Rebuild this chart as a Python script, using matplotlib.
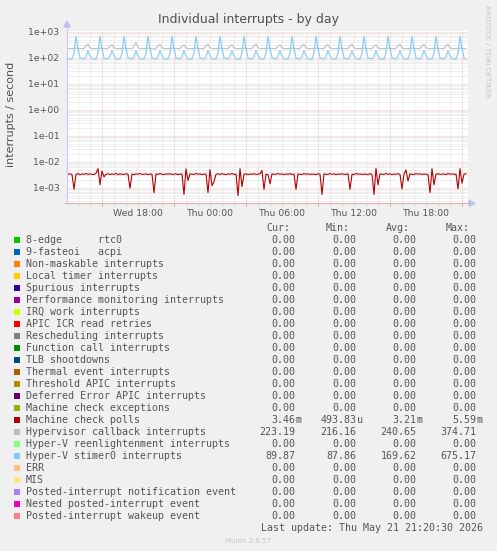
import numpy as np
import matplotlib
matplotlib.use("Agg")
import matplotlib.pyplot as plt
from matplotlib.patches import Polygon, Rectangle
from matplotlib.lines import Line2D

# ---------------- data ----------------
# sample times: hours since Wed 00:00, 10-minute steps from Wed 12:10 to Thu 21:20
t_start_hours = 12 + 10 / 60
t_step_hours = 10 / 60

machine_check_polls = [  # interrupts/s (x 1e-3)
    3.3, 3.4, 3.25, 0.87, 3.3, 3.45, 3.2, 3.35, 3.3, 3.5,
    3.25, 3.4, 3.3, 3.2, 3.6, 5.45, 1.3, 4.4, 2.6, 3.3,
    3.4, 3.25, 3.35, 3.3, 3.5, 3.2, 3.4, 3.3, 3.25, 3.45,
    3.3, 0.95, 3.35, 3.2, 3.4, 3.3, 3.5, 3.25, 3.3, 3.4,
    3.2, 3.35, 3.3, 0.64, 3.4, 3.25, 3.5, 3.3, 3.2, 3.4,
    3.3, 3.45, 3.25, 3.3, 3.4, 3.2, 3.35, 3.3, 0.55, 5.3,
    1.9, 3.4, 3.3, 3.25, 3.5, 3.3, 3.4, 3.2, 3.35, 3.3,
    0.65, 5.0, 1.2, 1.7, 3.3, 3.4, 3.25, 3.45, 3.3, 3.2,
    3.4, 3.3, 3.5, 3.25, 3.3, 0.494, 5.4, 1.1, 3.3, 3.4,
    3.2, 3.35, 3.3, 3.45, 3.25, 3.3, 3.4, 4.6, 0.85, 3.3,
    3.2, 1.4, 3.4, 3.3, 3.25, 3.5, 3.3, 3.4, 3.2, 3.35,
    3.3, 3.45, 3.25, 3.3, 0.87, 3.4, 3.3, 3.2, 3.5, 3.3,
    3.4, 3.25, 3.35, 3.3, 3.2, 3.45, 3.3, 0.55, 3.4, 3.3,
    3.25, 3.5, 3.3, 3.4, 3.2, 3.35, 3.3, 3.45, 3.25, 3.3,
    3.4, 0.87, 3.3, 3.2, 3.5, 3.3, 3.4, 3.25, 3.35, 3.3,
    3.2, 3.45, 3.3, 0.55, 5.59, 1.3, 3.4, 3.3, 3.25, 3.5,
    3.3, 3.4, 3.2, 3.35, 3.3, 3.45, 3.25, 0.9, 3.3, 4.8,
    1.8, 3.4, 3.3, 3.2, 3.5, 3.3, 3.4, 3.25, 3.35, 3.3,
    3.2, 0.64, 5.4, 1.3, 3.3, 3.45, 3.25, 3.3, 3.4, 3.2,
    3.5, 3.3, 3.4, 3.25, 3.35, 0.9, 5.4, 1.5, 3.3, 3.46,
]

hypervisor_callback = [
    224, 226, 222,
    226, 237, 228, 224, 222, 226, 282, 330, 240, 224, 222, 225,
    225, 235, 227, 223, 221, 225, 278, 318, 238, 223, 224, 226,
    227, 238, 229, 224, 223, 224, 285, 374.71, 245, 225, 222, 224,
    224, 236, 228, 222, 216.16, 225, 280, 322, 239, 224, 223, 225,
    226, 237, 227, 225, 222, 226, 276, 315, 237, 223, 222, 224,
    225, 239, 228, 223, 221, 224, 283, 328, 241, 225, 223, 226,
    227, 236, 229, 224, 222, 225, 279, 320, 238, 224, 222, 225,
    224, 238, 227, 223, 223, 226, 281, 335, 242, 223, 224, 224,
    226, 237, 228, 225, 222, 224, 277, 318, 239, 224, 222, 226,
    225, 235, 229, 224, 221, 225, 284, 326, 240, 225, 223, 225,
    227, 238, 228, 223, 222, 226, 280, 321, 238, 223, 222, 224,
    224, 237, 227, 224, 223, 225, 282, 330, 241, 224, 224, 225,
    226, 236, 229, 222, 222, 224, 278, 317, 237, 225, 222, 226,
    225, 239, 228, 224, 221, 225, 285, 327, 240, 223, 223, 224,
    227, 237, 227, 223, 222, 226, 279, 322, 239, 224, 222, 225,
    224, 238, 229, 225, 223, 224, 281, 325, 238, 224, 223, 226,
    226, 237, 228, 224, 223.19,
]

hyperv_stimer0 = [
    91, 90, 92,
    148, 672, 228, 101, 91, 90, 110, 186, 117, 92, 90, 89,
    152, 665, 235, 98, 90, 91, 113, 190, 120, 91, 90, 90,
    145, 670, 225, 102, 92, 90, 108, 184, 115, 90, 91, 90,
    150, 675.17, 232, 100, 90, 89, 111, 192, 118, 92, 90, 91,
    147, 668, 229, 99, 91, 90, 112, 187, 116, 90, 89, 90,
    153, 671, 233, 101, 90, 91, 109, 189, 119, 91, 90, 90,
    149, 666, 227, 100, 92, 90, 113, 185, 117, 90, 91, 89,
    151, 673, 231, 98, 90, 90, 110, 191, 120, 92, 90, 90,
    146, 669, 230, 102, 91, 89, 112, 186, 116, 90, 90, 91,
    150, 667, 226, 99, 90, 91, 111, 188, 118, 91, 89, 87.86,
    152, 674, 234, 101, 91, 90, 109, 190, 117, 90, 90, 90,
    148, 670, 228, 100, 90, 90, 113, 184, 119, 92, 91, 90,
    149, 668, 232, 98, 92, 91, 110, 189, 116, 90, 90, 89,
    151, 672, 229, 101, 90, 90, 112, 187, 118, 91, 90, 90,
    147, 669, 231, 100, 91, 89, 111, 191, 120, 90, 90, 91,
    150, 671, 227, 99, 90, 91, 110, 186, 117, 92, 90, 90,
    148, 670, 230, 100, 89.87,
]

legend_labels = [
    "8-edge      rtc0", "9-fasteoi   acpi", "Non-maskable interrupts",
    "Local timer interrupts", "Spurious interrupts",
    "Performance monitoring interrupts", "IRQ work interrupts",
    "APIC ICR read retries", "Rescheduling interrupts",
    "Function call interrupts", "TLB shootdowns", "Thermal event interrupts",
    "Threshold APIC interrupts", "Deferred Error APIC interrupts",
    "Machine check exceptions", "Machine check polls",
    "Hypervisor callback interrupts", "Hyper-V reenlightenment interrupts",
    "Hyper-V stimer0 interrupts", "ERR", "MIS",
    "Posted-interrupt notification event", "Nested posted-interrupt event",
    "Posted-interrupt wakeup event",
]
legend_colors = [
    "#00CC00", "#0066B3", "#FF8000", "#FFCC00", "#330099", "#990099",
    "#CCFF00", "#FF0000", "#808080", "#008F00", "#00487D", "#B35A00",
    "#B38F00", "#6B006B", "#8FB300", "#B30000", "#BEBEBE", "#80FF80",
    "#80C9FF", "#FFC080", "#FFE680", "#AA80FF", "#EE00CC", "#FF8080",
]
cur_vals = [0.0] * 15 + [3.46e-3, 223.19, 0.0, 89.87, 0.0, 0.0, 0.0, 0.0, 0.0]
min_vals = [0.0] * 15 + [493.83e-6, 216.16, 0.0, 87.86, 0.0, 0.0, 0.0, 0.0, 0.0]
avg_vals = [0.0] * 15 + [3.21e-3, 240.65, 0.0, 169.62, 0.0, 0.0, 0.0, 0.0, 0.0]
max_vals = [0.0] * 15 + [5.59e-3, 374.71, 0.0, 675.17, 0.0, 0.0, 0.0, 0.0, 0.0]

x_tick_pos = [18, 24, 30, 36, 42]
x_tick_labels = ["Wed 18:00", "Thu 00:00", "Thu 06:00", "Thu 12:00", "Thu 18:00"]
y_tick_exps = [-3, -2, -1, 0, 1, 2, 3]

# ---------------- layout ----------------
W, H = 497, 551
fig = plt.figure(figsize=(W / 100, H / 100), dpi=100, facecolor="#f0f0f0")


def fx(px):
    return px / W


def fy(py):
    return 1 - py / H


PL, PR, PT, PB = 67, 468, 30.5, 203.3
ax = fig.add_axes([fx(PL), fy(PB), (PR - PL) / W, (PB - PT) / H])
ax.set_facecolor("white")
ax.set_yscale("log")
ax.set_ylim(10 ** -3.6, 10 ** 3.046)
x0, x1 = 12 + 5 / 60, 45.5
ax.set_xlim(x0, x1)
for s in ax.spines.values():
    s.set_visible(False)

n = len(hyperv_stimer0)
t = t_start_hours + t_step_hours * np.arange(n)

# grid
minor_c, major_c = "#d6d6d6", "#ebb4b4"
dash = (0, (1, 1.4))
for e in range(-4, 4):
    for m in range(2, 10):
        v = m * 10 ** e
        if 10 ** -3.6 < v < 10 ** 3.046:
            ax.axhline(v, color=minor_c, lw=0.6, ls=dash, zorder=0.5)
for h in range(13, 46):
    if (h - 15) % 6 != 0:
        ax.axvline(h, color=minor_c, lw=0.6, ls=dash, zorder=0.5)
for e in y_tick_exps:
    ax.axhline(10.0 ** e, color=major_c, lw=0.6, ls=dash, zorder=0.6)
for h in range(15, 46, 6):
    ax.axvline(h, color=major_c, lw=0.6, ls=dash, zorder=0.6)

# data lines
ax.plot(t, np.array(machine_check_polls) * 1e-3, color="#B30000", lw=0.8, zorder=3)
ax.plot(t, hypervisor_callback, color="#BEBEBE", lw=0.8, zorder=3)
ax.plot(t, hyperv_stimer0, color="#80C9FF", lw=0.8, zorder=3)

# ticks
txt_c = "#555555"
ax.set_yticks([10.0 ** e for e in y_tick_exps])
ax.set_yticklabels(["1e%+03d" % e if e < 0 else "1e+%02d" % e for e in y_tick_exps])
ax.set_yticks([], minor=True)
ax.set_xticks(x_tick_pos)
ax.set_xticklabels(x_tick_labels)
ax.tick_params(axis="y", length=0, pad=5.5, labelsize=6.7, labelcolor=txt_c)
ax.tick_params(axis="x", length=0, pad=4.2, labelsize=6.7, labelcolor=txt_c)

# axes lines, arrows, tick marks (figure pixel coords)
ft = fig.transFigure
fig.add_artist(Line2D([fx(PL), fx(PL)], [fy(PB), fy(25)], color="#c8c8f0", lw=0.8, transform=ft))
fig.add_artist(Line2D([fx(PL - 2), fx(PR + 2)], [fy(PB), fy(PB)], color="#e6aab0", lw=0.8, transform=ft))
fig.add_artist(Polygon([[fx(PL - 3), fy(27)], [fx(PL + 3), fy(27)], [fx(PL), fy(21)]],
                       closed=True, color="#b8c2f4", transform=ft))
fig.add_artist(Polygon([[fx(PR + 1), fy(PB - 3)], [fx(PR + 1), fy(PB + 3)], [fx(PR + 7), fy(PB)]],
                       closed=True, color="#b8c2f4", transform=ft))
for h in range(13, 46):
    px = PL + (h - x0) / (x1 - x0) * (PR - PL)
    major = (h - 15) % 6 == 0
    fig.add_artist(Line2D([fx(px), fx(px)], [fy(PB), fy(PB + (3 if major else 2))],
                          color="#e6aab0" if major else "#c8c8c8", lw=0.7, transform=ft))

# titles and side texts
fig.text(fx(248.7), fy(22.7), "Individual interrupts - by day", ha="center", va="baseline",
         fontsize=9, color="#505050")
fig.text(fx(10.7), fy(114.5), "interrupts / second", rotation=90, ha="center", va="center",
         fontsize=8, color="#505050")
fig.text(fx(487), fy(5), "RRDTOOL / TOBI OETIKER", rotation=270, ha="center", va="top",
         fontsize=5.2, color="#c4c4c4")

# legend
mono = "DejaVu Sans Mono"
lfs = 7.2
col_right = [295.7, 356.7, 416.7, 476.7]
head_right = [290, 350, 410, 470]
for hx, ht in zip(head_right, ["Cur:", "Min:", "Avg:", "Max:"]):
    fig.text(fx(hx), fy(230.7), ht, ha="right", va="baseline", family=mono, fontsize=lfs, color=txt_c)


def fmt(v):
    if v == 0:
        return "0.00", ""
    a = abs(v)
    if a < 1e-3:
        return "%.2f" % (v * 1e6), "u"
    if a < 1:
        return "%.2f" % (v * 1e3), "m"
    return "%.2f" % v, ""


for j, (lab, colr) in enumerate(zip(legend_labels, legend_colors)):
    base = 243.3 + 12 * j
    fig.add_artist(Rectangle((fx(14), fy(base - 0.3)), 6 / W, 6 / H, color=colr, transform=ft, lw=0))
    fig.text(fx(26), fy(base), lab, ha="left", va="baseline", family=mono, fontsize=lfs, color=txt_c)
    for cx, vals in zip(col_right, [cur_vals, min_vals, avg_vals, max_vals]):
        num, suf = fmt(vals[j])
        fig.text(fx(cx), fy(base), num, ha="right", va="baseline", family=mono, fontsize=lfs, color=txt_c)
        if suf:
            fig.text(fx(cx), fy(base), suf, ha="left", va="baseline", family=mono, fontsize=lfs, color=txt_c)

fig.text(fx(482.7), fy(531), "Last update: Thu May 21 21:20:30 2026", ha="right", va="baseline",
         family=mono, fontsize=lfs, color=txt_c)
fig.text(fx(247.7), fy(542.7), "Munin 2.0.57", ha="center", va="baseline", fontsize=5,
         color="#c4c4c4")

fig.savefig("out.png", dpi=100, facecolor=fig.get_facecolor())
